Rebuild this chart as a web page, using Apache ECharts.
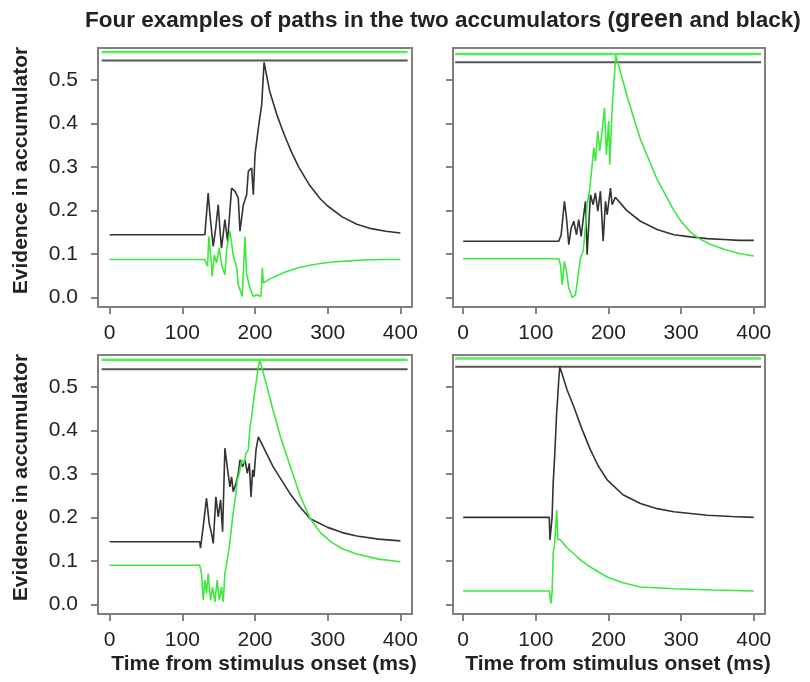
<!DOCTYPE html>
<html lang="en">
<head>
<meta charset="UTF-8">
<title>Accumulator paths</title>
<script src="https://cdn.jsdelivr.net/npm/echarts@6/dist/echarts.min.js"></script>
</head>
<body style="margin:0;background:#fff">
<div id="chart" style="width:810px;height:682px"></div>
<script type="text/javascript">
// tick labels
var xTicks = [0, 100, 200, 300, 400];
var yTicks = [0, 0.1, 0.2, 0.3, 0.4, 0.5];

// decision bounds per panel (TL, TR, BL, BR)
var boundGreen = [0.564, 0.559, 0.562, 0.565];
var boundBlack = [0.544, 0.540, 0.540, 0.546];
var boundSpan = [-11, 410];

// panel 1 (top left)
var tlBlack = [[0,0.144],[131,0.144],[135.6,0.240],[138,0.19],[142.5,0.117],[146,0.16],[149.4,0.213],[152,0.15],[154,0.113],
  [158.6,0.179],[162.3,0.129],[167.8,0.251],[172.4,0.244],[177,0.228],[179.3,0.152],[184,0.213],[188.5,0.236],[190.8,0.290],
  [195.4,0.297],[197.7,0.236],[200,0.328],[204.6,0.389],[209.2,0.443],[212.5,0.540],[220,0.475],[230,0.42],[240,0.375],
  [250,0.335],[260,0.300],[275,0.258],[290,0.226],[300,0.210],[320,0.185],[340,0.168],[360,0.158],[380,0.152],[400,0.148]];
var tlGreen = [[0,0.087],[131,0.087],[134.7,0.071],[136.5,0.140],[139.3,0.091],[141,0.048],[143.9,0.098],[147.2,0.079],
  [150.8,0.114],[154,0.075],[158.6,0.052],[161,0.110],[165.5,0.152],[170,0.098],[174.7,0.068],[177,0.029],[182.5,0.002],
  [186.2,0.140],[188.5,0.052],[193,0.022],[197.7,0.002],[202.3,0.006],[208.3,0.002],[210.1,0.068],[211.5,0.033],
  [220,0.042],[230,0.050],[240,0.057],[250,0.063],[260,0.068],[275,0.074],[290,0.078],[310,0.082],[330,0.084],
  [350,0.086],[375,0.087],[400,0.087]];

// panel 2 (top right)
var trBlack = [[0,0.129],[131.6,0.129],[134.9,0.144],[139.4,0.221],[142.2,0.183],[145.4,0.121],[148.7,0.160],[152.3,0.175],
  [156,0.144],[159.1,0.179],[162.4,0.140],[166,0.190],[168.3,0.221],[170.6,0.098],[172.9,0.094],[175.2,0.236],[178.9,0.213],
  [182,0.240],[185.3,0.198],[189,0.244],[192.7,0.129],[195.9,0.221],[198.2,0.190],[202.8,0.251],[205.1,0.213],[209.5,0.230],
  [225,0.200],[244,0.175],[267,0.156],[290,0.144],[313,0.139],[336,0.135],[359,0.133],[380,0.131],[400,0.131]];
var trGreen = [[0,0.089],[131.6,0.089],[133.9,0.075],[136.3,0.029],[139.4,0.083],[142.2,0.060],[145.4,0.022],[150,0.0],
  [154.6,0.006],[157.8,0.045],[161.5,0.091],[165.2,0.106],[168.3,0.160],[170.6,0.213],[174.3,0.251],[177.6,0.305],
  [179.8,0.344],[182.1,0.313],[185.3,0.382],[188,0.336],[191.3,0.382],[194.5,0.435],[197.2,0.328],[200.4,0.405],
  [201.8,0.305],[205.1,0.435],[208.3,0.512],[210,0.557],[225.7,0.462],[244,0.363],[267,0.271],[290,0.200],[300,0.175],
  [313,0.150],[325,0.135],[340,0.122],[360,0.110],[380,0.101],[400,0.095]];

// panel 3 (bottom left)
var blBlack = [[0,0.144],[124,0.144],[125,0.129],[128.7,0.178],[133.3,0.244],[137,0.186],[140.2,0.163],[142.5,0.140],
  [146.2,0.247],[149.4,0.201],[152.7,0.240],[155.4,0.167],[158.6,0.359],[161.8,0.316],[165.5,0.270],[167.8,0.293],
  [170,0.259],[173.8,0.278],[177,0.301],[179.3,0.332],[183,0.316],[186.2,0.332],[189.4,0.301],[192.2,0.324],[194.5,0.247],
  [196.8,0.309],[198.6,0.293],[201.4,0.355],[204.6,0.385],[225,0.316],[248,0.255],[262,0.224],[276,0.197],[300,0.177],
  [320,0.165],[340,0.157],[370,0.150],[400,0.146]];
var blGreen = [[0,0.090],[124,0.090],[126.4,0.071],[128.7,0.010],[131,0.056],[133.3,0.025],[135.6,0.071],[138.9,0.010],
  [141.6,0.040],[144.8,0.006],[148,0.056],[150.8,0.010],[154,0.040],[156.3,0.006],[158.6,0.071],[161.8,0.102],[164.6,0.132],
  [167.8,0.178],[171,0.224],[173.8,0.255],[175.6,0.286],[178.3,0.301],[181.6,0.332],[184.8,0.324],[187.6,0.347],
  [190.8,0.355],[193.1,0.408],[195.4,0.431],[198.6,0.477],[201.4,0.508],[204.6,0.546],[206.5,0.562],[215,0.51],
  [225,0.445],[235,0.385],[248,0.32],[262,0.25],[276,0.197],[290,0.165],[305,0.143],[320,0.128],[340,0.116],
  [370,0.104],[400,0.098]];

// panel 4 (bottom right)
var brBlack = [[0,0.200],[118.5,0.200],[119.5,0.148],[121,0.148],[122.4,0.200],[123.9,0.278],[125.7,0.332],[127,0.378],
  [128.4,0.431],[130.2,0.477],[131.6,0.516],[133,0.546],[143,0.493],[152.3,0.454],[163,0.405],[175.2,0.355],[186,0.318],
  [198.2,0.286],[220,0.252],[244,0.232],[267,0.220],[290,0.213],[336,0.205],[370,0.202],[400,0.200]];
var brGreen = [[0,0.031],[119,0.031],[120,0.010],[121,0.002],[122.5,0.030],[124,0.120],[126,0.140],[127.5,0.180],
  [128.8,0.217],[130.2,0.150],[134,0.148],[143,0.130],[152,0.117],[163,0.100],[175,0.086],[198,0.063],[220,0.050],
  [244,0.040],[290,0.036],[343,0.033],[400,0.031]];

var blackPaths = [tlBlack, trBlack, blBlack, brBlack];
var greenPaths = [tlGreen, trGreen, blGreen, brGreen];

var grids = [
    {left: 98, top: 48, width: 314, height: 259},
    {left: 453, top: 48, width: 312, height: 259},
    {left: 98, top: 355, width: 314, height: 259},
    {left: 453, top: 355, width: 312, height: 259}
];
var xRange = [[-16, 416], [-14, 415.5], [-16, 416], [-14, 415.5]];

var chart = echarts.init(document.getElementById('chart'));
var font = 'Liberation Sans';
var option = {
    backgroundColor: '#fff',
    animation: false,
    textStyle: {fontFamily: font},
    title: {
        left: 80, top: 3,
        text: '{a|Four examples of paths in the two accumulators (}{g|green}{a| and black)}',
        textStyle: {
            rich: {
                a: {fontSize: 22.5, fontWeight: 'bold', color: '#222', fontFamily: font},
                g: {fontSize: 25, fontWeight: 'bold', color: '#222', fontFamily: font}
            }
        }
    },
    grid: [], xAxis: [], yAxis: [], series: []
};

for (var i = 0; i < 4; i++) {
    var g = grids[i];
    option.grid.push({left: g.left, top: g.top, width: g.width, height: g.height,
        show: true, borderColor: '#808080', borderWidth: 2, backgroundColor: '#fff'});
    option.xAxis.push({
        type: 'value', gridIndex: i, min: xRange[i][0], max: xRange[i][1],
        axisLine: {show: false, onZero: false}, splitLine: {show: false},
        axisTick: {show: true, length: 7, customValues: xTicks, lineStyle: {color: '#777', width: 1.8}},
        axisLabel: {customValues: xTicks, fontSize: 21, color: '#222', margin: 16},
        name: i >= 2 ? 'Time from stimulus onset (ms)' : '',
        nameLocation: 'middle', nameGap: 40,
        nameTextStyle: {fontSize: 21, fontWeight: 'bold', color: '#222', padding: [0, 0, 0, 18]}
    });
    option.yAxis.push({
        type: 'value', gridIndex: i, min: -0.022, max: 0.573,
        axisLine: {show: false, onZero: false}, splitLine: {show: false},
        axisTick: {show: true, length: 7, customValues: yTicks, lineStyle: {color: '#777', width: 1.8}},
        axisLabel: {show: i % 2 === 0, customValues: yTicks, fontSize: 21, color: '#222', margin: 20,
            formatter: function (v) { return v.toFixed(1); }},
        name: i % 2 === 0 ? 'Evidence in accumulator' : '',
        nameLocation: 'middle', nameGap: 66,
        nameTextStyle: {fontSize: 21, fontWeight: 'bold', color: '#222', padding: [0, 0, 0, 14]}
    });
    option.series.push({
        type: 'line', xAxisIndex: i, yAxisIndex: i, showSymbol: false, silent: true,
        data: [[boundSpan[0], boundGreen[i]], [boundSpan[1], boundGreen[i]]],
        lineStyle: {color: '#55ee55', width: 2.5}
    });
    option.series.push({
        type: 'line', xAxisIndex: i, yAxisIndex: i, showSymbol: false, silent: true,
        data: [[boundSpan[0], boundBlack[i]], [boundSpan[1], boundBlack[i]]],
        lineStyle: {color: '#555', width: 2}
    });
    option.series.push({
        type: 'line', xAxisIndex: i, yAxisIndex: i, showSymbol: false, silent: true,
        data: blackPaths[i], lineStyle: {color: '#333', width: 1.6}
    });
    option.series.push({
        type: 'line', xAxisIndex: i, yAxisIndex: i, showSymbol: false, silent: true,
        data: greenPaths[i], lineStyle: {color: '#3ee83e', width: 1.6}
    });
}

chart.setOption(option);
</script>
</body>
</html>
